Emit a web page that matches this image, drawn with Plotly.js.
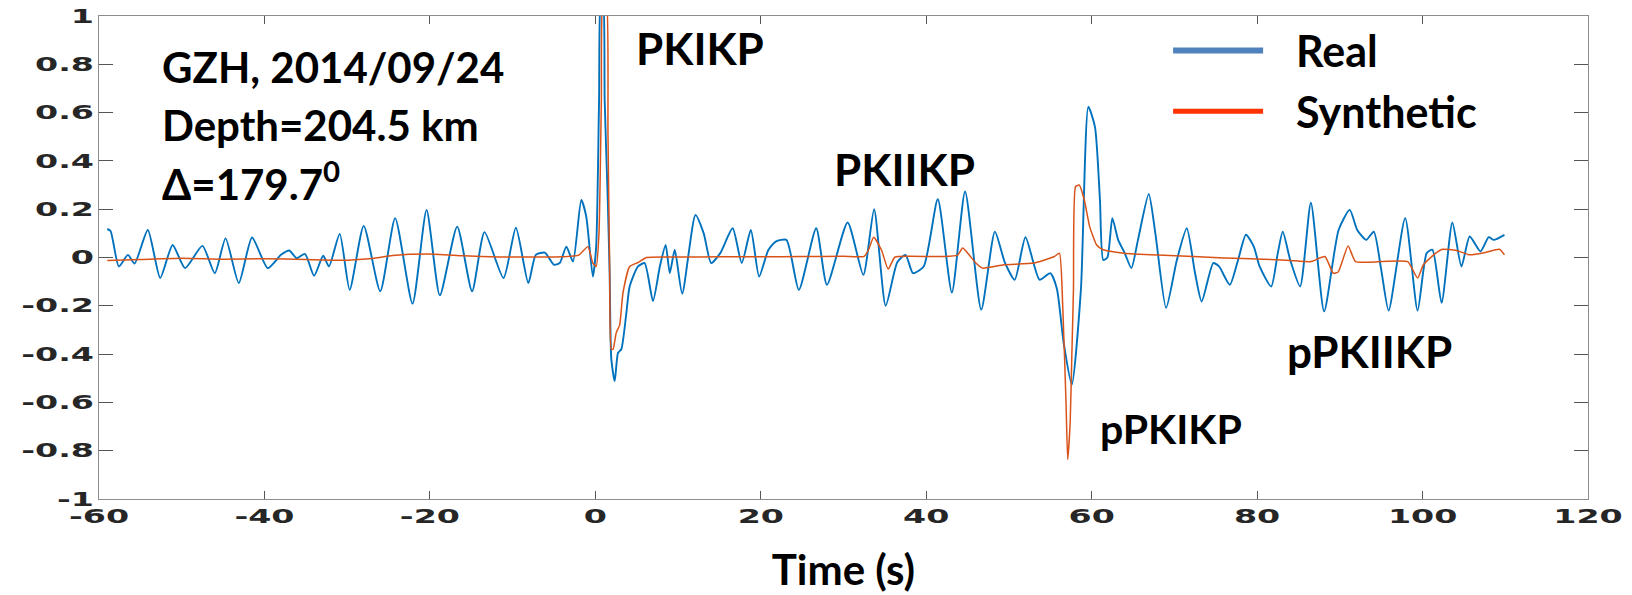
<!DOCTYPE html>
<html>
<head>
<meta charset="utf-8">
<script src="https://cdn.plot.ly/plotly-3.0.1.min.js"></script>
<style>
html, body { margin: 0; padding: 0; background: #ffffff; }
#chart { width: 1632px; height: 595px; }
</style>
</head>
<body>
<div id="chart"></div>
<script>
// ---- Data ----
const realTime = [
  -59.0, -58.6, -57.6, -56.5, -55.7, -54.1, -52.6, -51.1,
  -49.6, -47.5, -46.0, -44.7, -43.1, -41.5, -39.6, -38.0,
  -37.0, -36.1, -35.1, -34.0, -32.9, -32.2, -30.9, -29.7,
  -28.0, -26.0, -24.2, -22.1, -20.4, -18.8, -16.7, -14.9,
  -13.4, -11.1, -9.6, -8.1, -7.2, -6.1, -5.0, -4.3,
  -3.5, -2.7, -1.7, -1.1, -0.3, 0.1, 0.45, 0.7,
  0.9, 1.13, 1.5, 1.73, 1.93, 2.34, 2.74, 3.14,
  3.75, 4.15, 5.16, 5.96, 6.97, 7.8, 8.5, 9.0,
  9.6, 10.5, 12.1, 13.1, 14.0, 15.1, 16.6, 17.7,
  18.8, 19.8, 20.9, 21.8, 23.1, 24.6, 26.7, 28.0,
  30.5, 32.4, 33.7, 35.1, 36.5, 37.5, 38.4, 39.7,
  41.4, 43.1, 44.7, 46.65, 48.3, 49.5, 50.7, 52.0,
  53.7, 55.0, 55.8, 56.6, 57.6, 58.7, 59.6, 60.4,
  61.0, 61.4, 61.9, 62.5, 63.2, 64.0, 64.8, 65.6,
  66.9, 67.7, 69.0, 70.3, 71.5, 72.5, 73.3, 74.7,
  75.4, 76.7, 77.7, 78.65, 79.6, 80.3, 81.7, 82.5,
  83.1, 84.0, 85.2, 86.5, 88.1, 89.85, 91.2, 92.1,
  93.2, 94.1, 95.0, 95.9, 97.9, 99.4, 100.5, 101.2,
  102.3, 103.6, 104.7, 105.7, 107.0, 108.0, 108.6, 109.9
];
const realAmp = [
  0.118, 0.11, -0.037, 0.011, -0.025, 0.114, -0.085, 0.052,
  -0.044, 0.048, -0.065, 0.079, -0.106, 0.083, -0.044, 0.011,
  0.029, -0.003, 0.015, -0.076, 0.007, -0.037, 0.098, -0.134,
  0.131, -0.14, 0.163, -0.191, 0.197, -0.157, 0.128, -0.14,
  0.105, -0.085, 0.123, -0.106, 0.011, 0.02, -0.03, -0.023,
  0.045, -0.017, 0.238, 0.17, -0.079, 0.045, 0.65, 1.08,
  1.08, 0.65, 0.24, -0.065, -0.42, -0.512, -0.395, -0.38,
  -0.23, -0.12, -0.037, -0.023, -0.18, -0.037, 0.052, -0.065,
  0.032, -0.15, 0.176, 0.10, -0.023, 0.018, 0.121, -0.023,
  0.114, -0.079, 0.03, 0.066, 0.073, -0.134, 0.121, -0.113,
  0.145, -0.072, 0.2, -0.2, -0.02, 0.011, -0.065, -0.037,
  0.241, -0.145, 0.273, -0.216, 0.107, -0.02, -0.092, 0.084,
  -0.092, -0.065, -0.13, -0.35, -0.526, -0.133, 0.624, 0.54,
  0.238, -0.01, 0.0, 0.163, 0.073, 0.018, -0.044, 0.073,
  0.263, 0.1, -0.209, -0.01, 0.121, -0.065, -0.182, -0.023,
  -0.037, -0.113, -0.01, 0.094, 0.045, -0.037, -0.12, 0.018,
  0.107, -0.01, -0.12, 0.227, -0.223, 0.114, 0.197, 0.114,
  0.073, 0.107, -0.05, -0.22, 0.163, -0.22, 0.018, 0.032,
  -0.188, 0.145, -0.037, 0.087, 0.025, 0.084, 0.073, 0.094
];
const synTime = [
  -59.0, -55.0, -50.0, -45.0, -40.0, -35.0, -30.0, -27.0,
  -24.5, -20.2, -15.9, -11.6, -7.2, -4.0, -2.0, -0.9,
  -0.3, 0.1, 0.44, 0.73, 0.95, 1.3, 1.53, 1.73,
  1.93, 2.14, 2.54, 2.94, 3.34, 4.15, 5.2, 6.2,
  10, 15, 20, 25, 30, 32.5, 33.0, 33.65,
  34.6, 35.4, 36.2, 38, 42, 43.8, 44.4, 45.2,
  46.0, 46.8, 49.4, 53, 55.5, 56.1, 56.5, 56.9,
  57.1, 57.4, 57.6, 57.8, 58.05, 58.5, 59.1, 59.76,
  60.6, 61.4, 63.9, 68, 72.3, 76, 80.7, 84,
  86.5, 88.2, 89.2, 89.8, 91.0, 91.9, 95, 98.2,
  99.4, 100.1, 101.6, 102.4, 104.1, 105.7, 107.5, 109.3,
  109.9
];
const synAmp = [
  -0.012, -0.008, -0.003, -0.007, -0.005, -0.008, -0.011, -0.004,
  0.008, 0.014, 0.007, 0.002, 0.002, 0.003, 0.01, 0.045,
  -0.023, -0.037, 0.1, 0.65, 1.08, 1.08, 0.51, -0.037,
  -0.38, -0.38, -0.31, -0.28, -0.147, -0.037, -0.02, 0.0,
  0.002, 0.003, 0.003, 0.004, 0.005, 0.005, 0.03, 0.084,
  0.03, -0.048, 0.001, 0.005, 0.004, 0.01, 0.039, 0.01,
  -0.023, -0.044, -0.03, -0.023, 0.004, 0.018, -0.2, -0.6,
  -0.836, -0.684, -0.41, -0.133, 0.293, 0.3, 0.24, 0.128,
  0.052, 0.032, 0.018, 0.01, 0.004, -0.002, -0.007, -0.012,
  -0.017, 0.004, -0.065, -0.06, 0.048, -0.017, -0.017, -0.017,
  -0.085, -0.03, 0.018, 0.034, 0.029, 0.011, 0.02, 0.034,
  0.011
];
const seriesNames = ['Real', 'Synthetic'];
const xTickVals = [-60, -40, -20, 0, 20, 40, 60, 80, 100, 120];
const xTickText = ['-60', '-40', '-20', '0', '20', '40', '60', '80', '100', '120'];
const yTickVals = [-1, -0.8, -0.6, -0.4, -0.2, 0, 0.2, 0.4, 0.6, 0.8, 1];
const yTickText = ['-1', '-0.8', '-0.6', '-0.4', '-0.2', '0', '0.2', '0.4', '0.6', '0.8', '1'];
const xAxisTitle = 'Time (s)';
const infoLines = ['GZH, 2014/09/24', 'Depth=204.5 km', '\u0394=179.7<sup>0</sup>'];
const phaseNames = ['PKIKP', 'PKIIKP', 'pPKIKP', 'pPKIIKP'];

// ---- Styling / layout ----
const textFont = 'Lato, "Open Sans", sans-serif';
const tickFont = { family: '"DejaVu Sans", sans-serif', size: 19, color: '#262626', weight: 'bold' };

const traces = [
  { x: realTime, y: realAmp, type: 'scatter', mode: 'lines', name: seriesNames[0], showlegend: false,
    line: { color: '#0072BD', width: 1.9, shape: 'spline', smoothing: 0.6 } },
  { x: synTime, y: synAmp, type: 'scatter', mode: 'lines', name: seriesNames[1], showlegend: false,
    line: { color: '#D95319', width: 1.5, shape: 'spline', smoothing: 0.5 } },
  // legend entries (styled like the reference legend)
  { x: [null], y: [null], type: 'scatter', mode: 'lines', name: seriesNames[0], legendgroup: 'a',
    line: { color: '#4F81BD', width: 6 } },
  { x: [null], y: [null], type: 'scatter', mode: 'lines', name: seriesNames[1], legendgroup: 'b',
    line: { color: '#FF3300', width: 5 } }
];

function ann(text, x, y, size) {
  return { text: text, x: x, y: y, xref: 'x', yref: 'y', xanchor: 'left', yanchor: 'middle',
    showarrow: false, font: { family: textFont, size: size, color: '#000', weight: 'bold' } };
}

const layout = {
  width: 1632, height: 595,
  margin: { l: 99, r: 44, t: 16, b: 96 },
  paper_bgcolor: '#ffffff', plot_bgcolor: '#ffffff',
  showlegend: true,
  legend: {
    x: 0.718, y: 1.0, xanchor: 'left', yanchor: 'top',
    font: { family: textFont, size: 43, color: '#000', weight: 'bold' },
    bgcolor: 'rgba(0,0,0,0)', itemwidth: 118, traceorder: 'grouped', tracegroupgap: 2
  },
  xaxis: {
    range: [-60, 120], tickmode: 'array', tickvals: xTickVals, ticktext: xTickText,
    ticks: 'inside', ticklen: 8, tickwidth: 1, tickcolor: '#555',
    showline: true, linecolor: '#8c8c8c', linewidth: 1.2, mirror: 'ticks',
    showgrid: false, zeroline: false, tickfont: tickFont,
    title: { text: xAxisTitle, font: { family: textFont, size: 42, color: '#000', weight: 'bold' }, standoff: 29 }
  },
  yaxis: {
    range: [-1, 1], tickmode: 'array', tickvals: yTickVals, ticktext: yTickText,
    ticks: 'inside', ticklen: 14, tickwidth: 1, tickcolor: '#555',
    showline: true, linecolor: '#8c8c8c', linewidth: 1.2, mirror: 'ticks',
    showgrid: false, zeroline: false, tickfont: tickFont
  },
  annotations: [
    ann(infoLines[0], -52.6, 0.789, 42),
    ann(infoLines[1], -52.6, 0.55, 42),
    ann(infoLines[2], -52.6, 0.318, 42),
    ann(phaseNames[0], 4.7, 0.869, 44),
    ann(phaseNames[1], 28.6, 0.367, 44),
    ann(phaseNames[2], 60.8, -0.709, 41),
    ann(phaseNames[3], 83.4, -0.388, 44)
  ]
};

Plotly.newPlot('chart', traces, layout, { staticPlot: true, displayModeBar: false }).then(function (gd) {
  // the reference tick labels are horizontally stretched
  gd.querySelectorAll('.xtick text, .ytick text').forEach(function (t) {
    const w = t.getComputedTextLength();
    t.setAttribute('textLength', (w * 1.75).toFixed(1));
    t.setAttribute('lengthAdjust', 'spacingAndGlyphs');
  });
  // the reference legend line samples are ~90px long with a gap before the label
  gd.querySelectorAll('.legend .legendlines path').forEach(function (p) {
    p.setAttribute('d', 'M5,0h90');
  });
});
</script>
</body>
</html>
